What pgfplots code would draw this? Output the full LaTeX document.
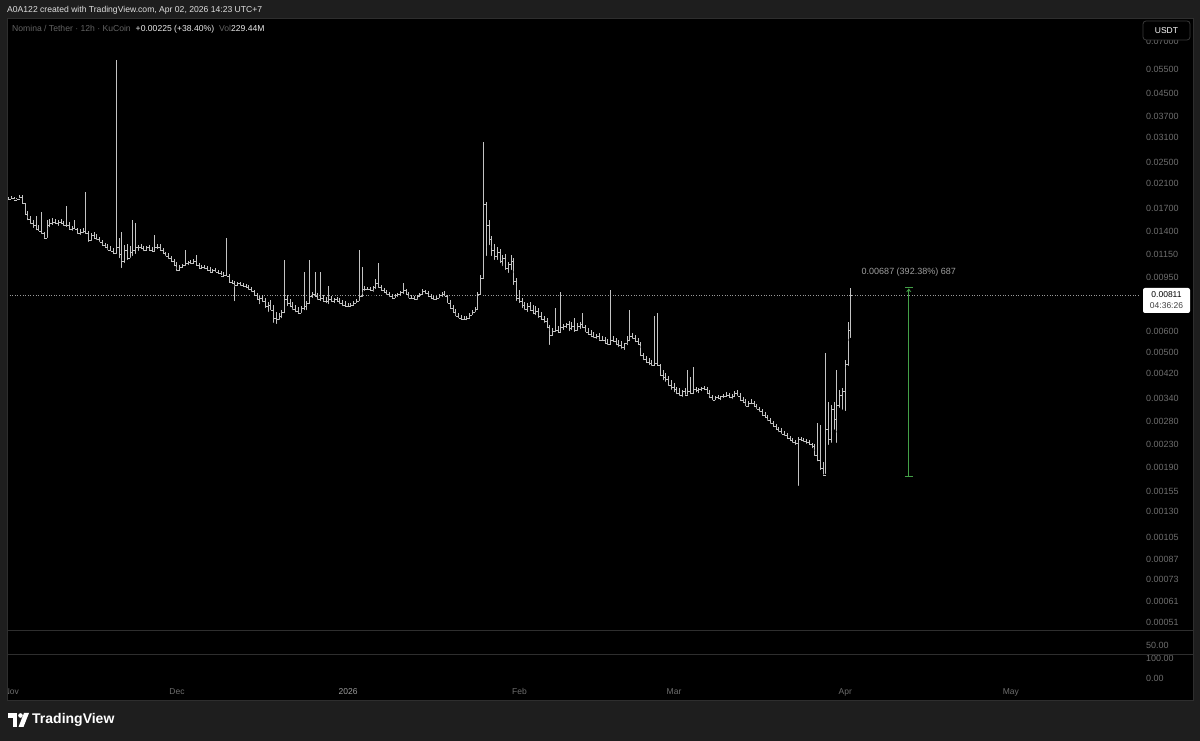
\documentclass[border=0pt]{standalone}
\usepackage{pgfplots}
\pgfplotsset{compat=1.18}
\usepackage{pgfplotstable}
\usetikzlibrary{arrows.meta}
\usepackage{fontspec}
\setmainfont{Liberation Sans}
\definecolor{bg}{HTML}{1E1E1E}
\definecolor{barc}{HTML}{C4C4C4}
\definecolor{lab}{HTML}{6E6E6E}
\definecolor{frm}{HTML}{2E2E2E}
\definecolor{grn}{HTML}{43A047}
\pgfdeclareplotmark{ohlcopen}{\pgfpathmoveto{\pgfqpoint{-1.4pt}{0pt}}\pgfpathlineto{\pgfqpoint{0pt}{0pt}}\pgfusepathqstroke}
\pgfdeclareplotmark{ohlcclose}{\pgfpathmoveto{\pgfqpoint{0pt}{0pt}}\pgfpathlineto{\pgfqpoint{1.4pt}{0pt}}\pgfusepathqstroke}

\pgfplotstableread{
d o h l c
-0.5 0.01840 0.01871 0.01809 0.01840
0 0.01840 0.01887 0.01824 0.01855
0.5 0.01855 0.01871 0.01809 0.01824
1 0.01824 0.01855 0.01809 0.01840
1.5 0.01840 0.01903 0.01824 0.01871
2 0.01871 0.01903 0.01734 0.01764
2.5 0.01764 0.01778 0.01580 0.01620
3 0.01620 0.01662 0.01514 0.01553
3.5 0.01553 0.01593 0.01464 0.01489
4 0.01489 0.01540 0.01415 0.01464
4.5 0.01464 0.01593 0.01391 0.01427
5 0.01427 0.01476 0.01380 0.01403
5.5 0.01403 0.01648 0.01345 0.01368
6 0.01368 0.01391 0.01300 0.01322
6.5 0.01322 0.01540 0.01300 0.01464
7 0.01464 0.01553 0.01427 0.01501
7.5 0.01501 0.01566 0.01451 0.01514
8 0.01514 0.01553 0.01464 0.01489
8.5 0.01489 0.01540 0.01439 0.01514
9 0.01514 0.01553 0.01464 0.01489
9.5 0.01489 0.01527 0.01439 0.01464
10 0.01464 0.01734 0.01427 0.01476
10.5 0.01476 0.01514 0.01403 0.01427
11 0.01427 0.01464 0.01380 0.01439
11.5 0.01439 0.01540 0.01403 0.01415
12 0.01415 0.01439 0.01345 0.01368
12.5 0.01368 0.01427 0.01334 0.01391
13 0.01391 0.01439 0.01356 0.01403
13.5 0.01403 0.01953 0.01345 0.01368
14 0.01368 0.01403 0.01257 0.01289
14.5 0.01289 0.01380 0.01267 0.01345
15 0.01345 0.01391 0.01300 0.01322
15.5 0.01322 0.01368 0.01278 0.01300
16 0.01300 0.01334 0.01257 0.01278
16.5 0.01278 0.01300 0.01225 0.01246
17 0.01246 0.01267 0.01205 0.01225
17.5 0.01225 0.01257 0.01174 0.01194
18 0.01194 0.01236 0.01164 0.01184
18.5 0.01184 0.01215 0.01135 0.01164
19 0.01164 0.05980 0.01135 0.01215
19.5 0.01215 0.01322 0.01097 0.01145
20 0.01145 0.01391 0.01008 0.01079
20.5 0.01079 0.01246 0.01052 0.01194
21 0.01194 0.01257 0.01079 0.01116
21.5 0.01116 0.01236 0.01097 0.01174
22 0.01174 0.01540 0.01116 0.01194
22.5 0.01194 0.01501 0.01135 0.01215
23 0.01215 0.01246 0.01164 0.01225
23.5 0.01225 0.01257 0.01184 0.01205
24 0.01205 0.01236 0.01164 0.01194
24.5 0.01194 0.01236 0.01174 0.01215
25 0.01215 0.01246 0.01174 0.01194
25.5 0.01194 0.01225 0.01155 0.01184
26 0.01184 0.01356 0.01164 0.01215
26.5 0.01215 0.01257 0.01184 0.01225
27 0.01225 0.01257 0.01174 0.01194
27.5 0.01194 0.01215 0.01135 0.01155
28 0.01155 0.01174 0.01116 0.01135
28.5 0.01135 0.01164 0.01088 0.01107
29 0.01107 0.01135 0.01061 0.01079
29.5 0.01079 0.01107 0.01025 0.01043
30 0.01043 0.01079 0.00983 0.01008
30.5 0.01008 0.01052 0.00983 0.01034
31 0.01034 0.01061 0.01008 0.01043
31.5 0.01043 0.01194 0.01025 0.01061
32 0.01061 0.01088 0.01034 0.01070
32.5 0.01070 0.01097 0.01043 0.01061
33 0.01061 0.01107 0.01043 0.01079
33.5 0.01079 0.01145 0.01025 0.01043
34 0.01043 0.01070 0.01008 0.01025
34.5 0.01025 0.01052 0.01000 0.01034
35 0.01034 0.01052 0.01000 0.01017
35.5 0.01017 0.01043 0.00991 0.01008
36 0.01008 0.01034 0.00975 0.00991
36.5 0.00991 0.01017 0.00966 0.01000
37 0.01000 0.01025 0.00975 0.00983
37.5 0.00983 0.01008 0.00958 0.00975
38 0.00975 0.01000 0.00950 0.00958
38.5 0.00958 0.00991 0.00934 0.00966
39 0.00966 0.01322 0.00942 0.00958
39.5 0.00958 0.00975 0.00888 0.00903
40 0.00903 0.00926 0.00881 0.00896
40.5 0.00896 0.00918 0.00762 0.00881
41 0.00881 0.00911 0.00866 0.00896
41.5 0.00896 0.00911 0.00866 0.00881
42 0.00881 0.00903 0.00858 0.00873
42.5 0.00873 0.00896 0.00851 0.00866
43 0.00866 0.00888 0.00837 0.00851
43.5 0.00851 0.00873 0.00823 0.00837
44 0.00837 0.00851 0.00795 0.00809
44.5 0.00809 0.00830 0.00769 0.00782
45 0.00782 0.00809 0.00743 0.00795
45.5 0.00795 0.00816 0.00756 0.00769
46 0.00769 0.00795 0.00718 0.00737
46.5 0.00737 0.00769 0.00694 0.00749
47 0.00749 0.00782 0.00706 0.00718
47.5 0.00718 0.00749 0.00633 0.00671
48 0.00671 0.00706 0.00627 0.00660
48.5 0.00660 0.00700 0.00649 0.00682
49 0.00682 0.00718 0.00660 0.00706
49.5 0.00706 0.01097 0.00688 0.00782
50 0.00782 0.00816 0.00730 0.00756
50.5 0.00756 0.00789 0.00724 0.00743
51 0.00743 0.00769 0.00706 0.00724
51.5 0.00724 0.00749 0.00694 0.00712
52 0.00712 0.00737 0.00688 0.00700
52.5 0.00700 0.00743 0.00688 0.00730
53 0.00730 0.00991 0.00706 0.00743
53.5 0.00743 0.00775 0.00706 0.00762
54 0.00762 0.01097 0.00743 0.00802
54.5 0.00802 0.00837 0.00782 0.00816
55 0.00816 0.00991 0.00789 0.00802
55.5 0.00802 0.00830 0.00769 0.00782
56 0.00782 0.00991 0.00762 0.00795
56.5 0.00795 0.00816 0.00762 0.00775
57 0.00775 0.00802 0.00749 0.00769
57.5 0.00769 0.00881 0.00743 0.00782
58 0.00782 0.00809 0.00756 0.00769
58.5 0.00769 0.00795 0.00749 0.00782
59 0.00782 0.00802 0.00756 0.00769
59.5 0.00769 0.00795 0.00743 0.00756
60 0.00756 0.00782 0.00730 0.00749
60.5 0.00749 0.00775 0.00724 0.00737
61 0.00737 0.00762 0.00724 0.00743
61.5 0.00743 0.00762 0.00730 0.00749
62 0.00749 0.00775 0.00737 0.00762
62.5 0.00762 0.00789 0.00749 0.00775
63 0.00775 0.01194 0.00762 0.00802
63.5 0.00802 0.01034 0.00789 0.00851
64 0.00851 0.00881 0.00830 0.00858
64.5 0.00858 0.00873 0.00837 0.00851
65 0.00851 0.00873 0.00830 0.00844
65.5 0.00844 0.00881 0.00823 0.00866
66 0.00866 0.00934 0.00844 0.00896
66.5 0.00896 0.01070 0.00851 0.00866
67 0.00866 0.00888 0.00830 0.00844
67.5 0.00844 0.00866 0.00816 0.00830
68 0.00830 0.00851 0.00802 0.00816
68.5 0.00816 0.00837 0.00789 0.00802
69 0.00802 0.00823 0.00782 0.00795
69.5 0.00795 0.00823 0.00782 0.00809
70 0.00809 0.00830 0.00789 0.00816
70.5 0.00816 0.00844 0.00795 0.00830
71 0.00830 0.00903 0.00809 0.00844
71.5 0.00844 0.00858 0.00802 0.00816
72 0.00816 0.00837 0.00782 0.00795
72.5 0.00795 0.00816 0.00775 0.00789
73 0.00789 0.00809 0.00769 0.00782
73.5 0.00782 0.00816 0.00769 0.00802
74 0.00802 0.00830 0.00789 0.00816
74.5 0.00816 0.00858 0.00802 0.00837
75 0.00837 0.00851 0.00809 0.00823
75.5 0.00823 0.00844 0.00795 0.00802
76 0.00802 0.00823 0.00775 0.00789
76.5 0.00789 0.00809 0.00769 0.00782
77 0.00782 0.00809 0.00769 0.00795
77.5 0.00795 0.00823 0.00782 0.00809
78 0.00809 0.00837 0.00789 0.00816
78.5 0.00816 0.00844 0.00795 0.00802
79 0.00802 0.00816 0.00749 0.00762
79.5 0.00762 0.00782 0.00718 0.00730
80 0.00730 0.00749 0.00694 0.00706
80.5 0.00706 0.00724 0.00671 0.00682
81 0.00682 0.00700 0.00660 0.00671
81.5 0.00671 0.00688 0.00654 0.00665
82 0.00665 0.00682 0.00649 0.00660
82.5 0.00660 0.00682 0.00649 0.00671
83 0.00671 0.00700 0.00660 0.00688
83.5 0.00688 0.00718 0.00677 0.00706
84 0.00706 0.00737 0.00694 0.00724
84.5 0.00724 0.00837 0.00712 0.00816
85 0.00816 0.00966 0.00802 0.00942
85.5 0.00942 0.02980 0.00926 0.01749
86 0.01749 0.01794 0.01116 0.01476
86.5 0.01476 0.01540 0.01225 0.01300
87 0.01300 0.01345 0.01116 0.01194
87.5 0.01194 0.01257 0.01079 0.01135
88 0.01135 0.01225 0.01079 0.01174
88.5 0.01174 0.01205 0.01052 0.01079
89 0.01079 0.01145 0.01025 0.01116
89.5 0.01116 0.01155 0.00991 0.01025
90 0.01025 0.01079 0.00966 0.01052
90.5 0.01052 0.01145 0.00991 0.01079
91 0.01079 0.01116 0.00873 0.00911
91.5 0.00911 0.00942 0.00762 0.00795
92 0.00795 0.00851 0.00749 0.00769
92.5 0.00769 0.00795 0.00718 0.00749
93 0.00749 0.00769 0.00706 0.00724
93.5 0.00724 0.00762 0.00694 0.00743
94 0.00743 0.00769 0.00706 0.00718
94.5 0.00718 0.00749 0.00682 0.00700
95 0.00700 0.00743 0.00677 0.00712
95.5 0.00712 0.00730 0.00660 0.00682
96 0.00682 0.00706 0.00649 0.00660
96.5 0.00660 0.00682 0.00633 0.00649
97 0.00649 0.00671 0.00606 0.00617
97.5 0.00617 0.00633 0.00525 0.00581
98 0.00581 0.00617 0.00567 0.00601
98.5 0.00601 0.00730 0.00586 0.00606
99 0.00606 0.00627 0.00581 0.00596
99.5 0.00596 0.00837 0.00586 0.00617
100 0.00617 0.00638 0.00596 0.00622
100.5 0.00622 0.00643 0.00606 0.00633
101 0.00633 0.00654 0.00591 0.00612
101.5 0.00612 0.00649 0.00596 0.00627
102 0.00627 0.00671 0.00586 0.00606
102.5 0.00606 0.00643 0.00591 0.00622
103 0.00622 0.00649 0.00601 0.00633
103.5 0.00633 0.00700 0.00606 0.00617
104 0.00617 0.00633 0.00586 0.00596
104.5 0.00596 0.00617 0.00576 0.00586
105 0.00586 0.00606 0.00567 0.00576
105.5 0.00576 0.00596 0.00557 0.00567
106 0.00567 0.00586 0.00553 0.00572
106.5 0.00572 0.00591 0.00548 0.00557
107 0.00557 0.00576 0.00543 0.00553
107.5 0.00553 0.00572 0.00534 0.00543
108 0.00543 0.00562 0.00525 0.00534
108.5 0.00534 0.00851 0.00525 0.00557
109 0.00557 0.00576 0.00539 0.00548
109.5 0.00548 0.00567 0.00525 0.00534
110 0.00534 0.00557 0.00516 0.00530
110.5 0.00530 0.00553 0.00508 0.00521
111 0.00521 0.00543 0.00503 0.00539
111.5 0.00539 0.00576 0.00525 0.00557
112 0.00557 0.00718 0.00543 0.00576
112.5 0.00576 0.00591 0.00553 0.00562
113 0.00562 0.00581 0.00539 0.00548
113.5 0.00548 0.00567 0.00525 0.00534
114 0.00534 0.00548 0.00478 0.00487
114.5 0.00487 0.00499 0.00462 0.00474
115 0.00474 0.00487 0.00451 0.00462
115.5 0.00462 0.00478 0.00443 0.00455
116 0.00455 0.00470 0.00440 0.00447
116.5 0.00447 0.00682 0.00440 0.00455
117 0.00455 0.00700 0.00440 0.00447
117.5 0.00447 0.00455 0.00404 0.00414
118 0.00414 0.00432 0.00390 0.00404
118.5 0.00404 0.00421 0.00384 0.00397
119 0.00397 0.00411 0.00371 0.00380
119.5 0.00380 0.00397 0.00359 0.00374
120 0.00374 0.00387 0.00352 0.00365
120.5 0.00365 0.00374 0.00346 0.00355
121 0.00355 0.00371 0.00341 0.00349
121.5 0.00349 0.00365 0.00338 0.00359
122 0.00359 0.00371 0.00344 0.00349
122.5 0.00349 0.00432 0.00344 0.00359
123 0.00359 0.00407 0.00346 0.00355
123.5 0.00355 0.00443 0.00346 0.00365
124 0.00365 0.00374 0.00352 0.00362
124.5 0.00362 0.00371 0.00349 0.00365
125 0.00365 0.00374 0.00355 0.00368
125.5 0.00368 0.00377 0.00359 0.00365
126 0.00365 0.00374 0.00349 0.00355
126.5 0.00355 0.00365 0.00335 0.00341
127 0.00341 0.00349 0.00329 0.00335
127.5 0.00335 0.00346 0.00329 0.00341
128 0.00341 0.00349 0.00332 0.00338
128.5 0.00338 0.00346 0.00329 0.00344
129 0.00344 0.00352 0.00335 0.00346
129.5 0.00346 0.00359 0.00338 0.00349
130 0.00349 0.00355 0.00335 0.00341
130.5 0.00341 0.00352 0.00332 0.00346
131 0.00346 0.00362 0.00338 0.00355
131.5 0.00355 0.00365 0.00341 0.00346
132 0.00346 0.00355 0.00329 0.00335
132.5 0.00335 0.00344 0.00324 0.00329
133 0.00329 0.00338 0.00313 0.00318
133.5 0.00318 0.00332 0.00313 0.00326
134 0.00326 0.00338 0.00318 0.00324
134.5 0.00324 0.00332 0.00313 0.00318
135 0.00318 0.00324 0.00305 0.00310
135.5 0.00310 0.00316 0.00298 0.00303
136 0.00303 0.00310 0.00290 0.00295
136.5 0.00295 0.00303 0.00283 0.00288
137 0.00288 0.00295 0.00276 0.00281
137.5 0.00281 0.00288 0.00269 0.00274
138 0.00274 0.00281 0.00262 0.00267
138.5 0.00267 0.00274 0.00256 0.00260
139 0.00260 0.00267 0.00251 0.00256
139.5 0.00256 0.00264 0.00247 0.00251
140 0.00251 0.00258 0.00243 0.00247
140.5 0.00247 0.00253 0.00237 0.00241
141 0.00241 0.00247 0.00233 0.00237
141.5 0.00237 0.00243 0.00229 0.00233
142 0.00233 0.00239 0.00225 0.00231
142.5 0.00231 0.00245 0.00159 0.00239
143 0.00239 0.00245 0.00233 0.00237
143.5 0.00237 0.00243 0.00231 0.00235
144 0.00235 0.00241 0.00227 0.00233
144.5 0.00233 0.00239 0.00225 0.00229
145 0.00229 0.00233 0.00219 0.00225
145.5 0.00225 0.00231 0.00205 0.00210
146 0.00210 0.00276 0.00196 0.00201
146.5 0.00201 0.00271 0.00182 0.00188
147 0.00188 0.00198 0.00175 0.00177
147.5 0.00177 0.00499 0.00176 0.00260
148 0.00260 0.00329 0.00225 0.00239
148.5 0.00239 0.00321 0.00229 0.00308
149 0.00308 0.00329 0.00256 0.00283
149.5 0.00283 0.00432 0.00229 0.00321
150 0.00321 0.00365 0.00308 0.00349
150.5 0.00349 0.00371 0.00303 0.00359
151 0.00359 0.00470 0.00300 0.00451
151.5 0.00451 0.00649 0.00440 0.00606
152 0.00606 0.00866 0.00557 0.00811
}\ohlc

\begin{document}
\begin{tikzpicture}
% page background and chart pane (pixel y measured from top: tikz y = 741 - y)
\fill[bg] (0pt,0pt) rectangle (1200pt,741pt);
\fill[black] (7pt,41pt) rectangle (1193pt,723pt);

\begin{axis}[
  at={(7pt,111pt)}, anchor=south west,
  scale only axis, width=1133pt, height=612pt,
  xmin=-0.78, xmax=204.37,
  ymode=log, ymin=0.000477, ymax=0.08531,
  axis line style={draw=none},
  tick style={draw=none},
  minor ytick={}, minor xtick={},
  ytick={0.07,0.055,0.045,0.037,0.031,0.025,0.021,0.017,0.014,0.0115,0.0095,0.006,0.005,0.0042,0.0034,0.0028,0.0023,0.0019,0.00155,0.0013,0.00105,0.00087,0.00073,0.00061,0.00051},
  yticklabels={0.07000,0.05500,0.04500,0.03700,0.03100,0.02500,0.02100,0.01700,0.01400,0.01150,0.00950,0.00600,0.00500,0.00420,0.00340,0.00280,0.00230,0.00190,0.00155,0.00130,0.00105,0.00087,0.00073,0.00061,0.00051},
  yticklabel pos=right,
  yticklabel style={anchor=west, inner sep=0pt, xshift=6pt, text=lab, font=\fontsize{9}{10}\selectfont},
  xtick={0,30,61,92,120,151,181},
  xticklabels={Nov,Dec,\textcolor{white!62!black}{2026},Feb,Mar,Apr,May},
  xticklabel style={anchor=base, inner sep=0pt, yshift=-64pt, text=lab, font=\fontsize{8.5}{10}\selectfont},
]
% last-price dotted line
\addplot[draw=gray!80, line width=0.6pt, dash pattern=on 1pt off 1.6pt, forget plot] coordinates {(-0.78,0.00811) (204.37,0.00811)};
% high-low lines
\addplot[only marks, mark=none, forget plot,
  error bars/.cd, y dir=plus, y explicit, error mark=none,
  error bar style={draw=barc, line width=1pt}]
  table[x=d, y=l, y error plus expr=\thisrow{h}-\thisrow{l}] {\ohlc};
% open ticks
\addplot[only marks, mark=ohlcopen, mark options={draw=barc, line width=1pt}, forget plot] table[x=d, y=o] {\ohlc};
% close ticks
\addplot[only marks, mark=ohlcclose, mark options={draw=barc, line width=1pt}, forget plot] table[x=d, y=c] {\ohlc};
% measurement tool
\addplot[grn, line width=1pt, -{Stealth[length=3.5pt, width=5pt]}, forget plot] coordinates {(162.5,0.001751) (162.5,0.00862)};
\addplot[grn, line width=1pt, forget plot] coordinates {(161.8,0.001751) (163.2,0.001751)};
\addplot[grn, line width=1pt, forget plot] coordinates {(161.8,0.008658) (163.2,0.008658)};
\node[text=gray!75!white, font=\fontsize{9}{10}\selectfont] at (axis cs:162.5,0.00991) {0.00687 (392.38\%) 687};
\end{axis}

% left / right outer strips
\fill[bg] (0pt,0pt) rectangle (7pt,741pt);
\fill[bg] (1193pt,0pt) rectangle (1200pt,741pt);
\draw[frm, line width=0.8pt] (7pt,41pt) rectangle (1193pt,723pt);

% indicator pane separators and labels
\node[anchor=west, inner sep=0pt, text=lab, font=\fontsize{9}{10}\selectfont] at (1146pt,96pt) {50.00};
\node[anchor=west, inner sep=0pt, text=lab, font=\fontsize{9}{10}\selectfont] at (1146pt,83pt) {100.00};
\node[anchor=west, inner sep=0pt, text=lab, font=\fontsize{9}{10}\selectfont] at (1146pt,63pt) {0.00};
\draw[frm, line width=0.8pt] (7pt,111pt) -- (1193pt,111pt);
\draw[frm, line width=0.8pt] (7pt,87pt) -- (1193pt,87pt);

% header
\node[anchor=west, inner sep=0pt, text=white!88!black, font=\fontsize{8.6}{10}\selectfont] at (7pt,731pt) {A0A122 created with TradingView.com, Apr 02, 2026 14:23 UTC+7};
% legend
\node[anchor=west, inner sep=0pt, font=\fontsize{8.6}{10}\selectfont] at (12pt,712pt)
  {\textcolor{lab!90!black}{Nomina / Tether · 12h · KuCoin}\hspace{5pt}\textcolor{white!92!black}{+0.00225 (+38.40\%)}\hspace{5pt}\textcolor{lab!90!black}{Vol}\textcolor{white!92!black}{229.44M}};

% USDT box
\draw[fill=black, draw=gray!45!black, rounded corners=3pt, line width=0.8pt] (1143pt,701pt) rectangle (1190pt,720pt);
\node[text=white, font=\fontsize{8.5}{10}\selectfont] at (1166.5pt,710.5pt) {USDT};

% last price box
\fill[white, rounded corners=2pt] (1143pt,428pt) rectangle (1190pt,453pt);
\node[text=black, font=\fontsize{8.5}{10}\selectfont] at (1166.5pt,446pt) {0.00811};
\node[text=black!75, font=\fontsize{8.5}{10}\selectfont] at (1166.5pt,435pt) {04:36:26};

% footer logo
\fill[white] (8pt,23pt) rectangle (17pt,28pt);
\fill[white] (12.5pt,14pt) rectangle (17pt,28pt);
\fill[white] (20.5pt,25.5pt) circle (2.3pt);
\fill[white] (18.5pt,14pt) -- (24pt,28pt) -- (29pt,28pt) -- (23.5pt,14pt) -- cycle;
\node[anchor=west, inner sep=0pt, text=white, font=\fontsize{14}{16}\selectfont\bfseries] at (32pt,21pt) {TradingView};
\end{tikzpicture}
\end{document}
